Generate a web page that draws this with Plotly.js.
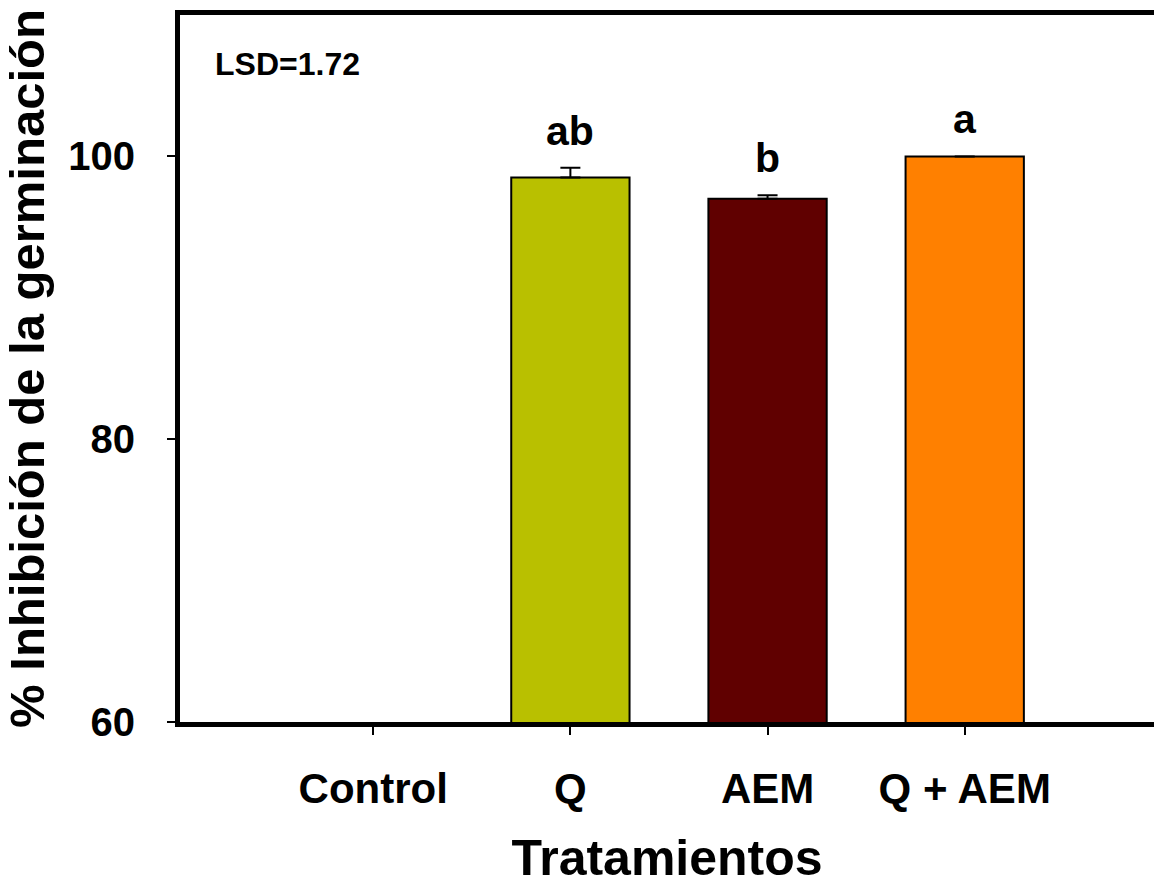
<!DOCTYPE html>
<html>
<head>
<meta charset="utf-8">
<script src="https://cdn.plot.ly/plotly-3.0.1.min.js"></script>
<style>html,body{margin:0;padding:0;background:#fff;}#chart{width:1154px;height:886px;}</style>
</head>
<body>
<div id="chart"></div>
<script>
const categories = ["Control", "Q", "AEM", "Q + AEM"];
const values = [0, 98.5, 97.0, 100.0];
const errors = [0, 0.7, 0.25, 0];
const letters = ["", "ab", "b", "a"];
const barColors = ["#ffffff", "#B9C000", "#600000", "#FF8000"];
const lsdText = "LSD=1.72";

const FONT = "Arial, 'Liberation Sans', sans-serif";

const trace = {
  type: "bar",
  x: categories,
  y: values,
  width: 0.6,
  marker: {color: barColors, line: {color: "#000", width: 2}},
  error_y: {type: "data", array: errors, arrayminus: errors.map(() => 0), symmetric: false,
            visible: true, color: "#000", thickness: 2, width: 10},
  hoverinfo: "none"
};

const annotations = letters.map((t, i) => ({
  x: categories[i], y: values[i] + errors[i], xref: "x", yref: "y",
  text: "<b>" + t + "</b>", showarrow: false, yanchor: "bottom", yshift: 12,
  font: {family: FONT, size: 41, color: "#000"}
})).filter(a => a.text !== "<b></b>");

annotations.push({
  xref: "paper", yref: "paper", x: 0.034, y: 0.93, xanchor: "left", yanchor: "middle",
  text: "<b>" + lsdText + "</b>", showarrow: false,
  font: {family: FONT, size: 32, color: "#000"}
});

const layout = {
  width: 1154, height: 886,
  margin: {l: 180, r: 0, t: 15, b: 164, pad: 0},
  paper_bgcolor: "#fff", plot_bgcolor: "#fff",
  showlegend: false,
  font: {family: FONT, color: "#000"},
  xaxis: {
    type: "category", range: [-0.98, 3.96],
    showline: true, linecolor: "#000", linewidth: 5, mirror: true,
    ticks: "outside", ticklen: 8, tickwidth: 2, tickcolor: "#000",
    showgrid: false, zeroline: false,
    tickfont: {family: FONT, size: 42, color: "#000", weight: "bold"},
    ticklabelstandoff: 18,
    title: {text: "<b>Tratamientos</b>", font: {family: FONT, size: 50, color: "#000"}, standoff: 34}
  },
  yaxis: {
    range: [60, 110], tickvals: [60, 80, 100], ticktext: ["<b>60</b>", "<b>80</b>", "<b>100</b>"],
    showline: true, linecolor: "#000", linewidth: 5,
    ticks: "outside", ticklen: 8, tickwidth: 2, tickcolor: "#000",
    showgrid: false, zeroline: false,
    tickfont: {family: FONT, size: 40, color: "#000"},
    ticklabelstandoff: 24,
    title: {text: "<b>% Inhibición de la germinación</b>", font: {family: FONT, size: 49, color: "#000"}, standoff: 14}
  },
  annotations: annotations
};

Plotly.newPlot("chart", [trace], layout, {displayModeBar: false, staticPlot: true});
</script>
</body>
</html>
